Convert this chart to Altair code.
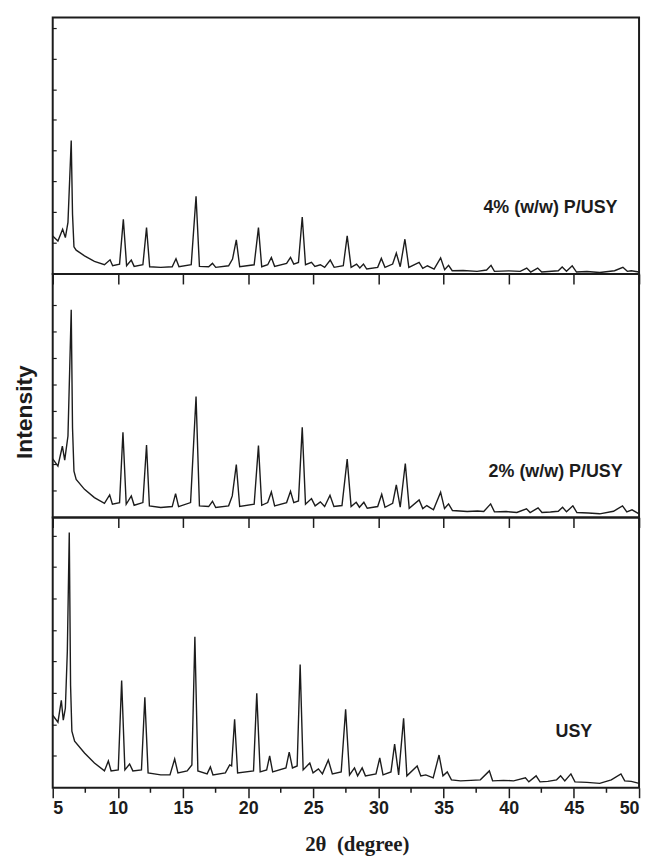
import altair as alt
import pandas as pd

# ---- data: (2theta, intensity in arbitrary units) ----
p4_pattern = [
    (5.0, 38.3), (5.4, 33.3), (5.76, 45), (5.97, 36.7), (6.17, 52), (6.42, 134.3), (6.52, 60),
    (6.63, 27.3), (6.8, 24), (7.44, 18.3), (8.2, 12.7), (8.97, 9.3), (9.4, 14.3), (9.6, 8.3),
    (10.13, 10), (10.42, 55), (10.67, 8.3), (11.03, 14), (11.25, 7.7), (11.92, 9.3), (12.2, 46.7),
    (12.44, 7.3), (13.29, 6.7), (14.17, 7.3), (14.46, 15.3), (14.69, 7.3), (15.63, 9.3), (16.0, 78.3),
    (16.26, 7.7), (16.97, 7.3), (17.26, 10.7), (17.51, 6.7), (18.5, 8.3), (18.8, 15), (19.09, 34.3),
    (19.35, 7.3), (20.46, 9.3), (20.79, 46.7), (21.04, 7.3), (21.5, 9.3), (21.78, 16.7), (22.03, 7.7),
    (22.95, 10.7), (23.25, 16.7), (23.5, 10), (23.86, 11.7), (24.15, 57.3), (24.4, 9.3), (24.86, 11.7),
    (25.12, 7.7), (25.54, 9.3), (25.87, 6.7), (26.3, 14), (26.6, 6.7), (27.3, 8.3), (27.6, 38.3),
    (27.9, 6.7), (28.32, 10), (28.57, 6), (28.85, 10), (29.1, 5), (29.94, 6.7), (30.22, 15.7),
    (30.5, 6.7), (31.09, 10), (31.37, 21), (31.67, 7.3), (32.03, 35), (32.33, 6.7), (33.12, 11.7),
    (33.4, 5.7), (33.76, 8.3), (34.27, 5), (34.77, 16.3), (35.08, 4.3), (35.38, 8.7), (35.66, 3.3),
    (36.5, 3.5), (37.57, 2.7), (38.3, 4), (38.64, 8.7), (38.9, 2.7), (40.0, 3.2), (40.88, 2.7),
    (41.38, 6), (41.68, 2), (42.22, 6), (42.53, 2), (43.8, 3.3), (44.1, 7), (44.43, 2.7), (44.87, 8.3),
    (45.2, 2), (46.0, 2.5), (46.98, 1.5), (48.12, 3.3), (48.76, 6.7), (49.1, 2.7), (49.4, 3.3),
    (50.0, 2),
]

p2_pattern = [
    (5.0, 59), (5.4, 51.7), (5.74, 71.7), (5.92, 57.7), (6.17, 82), (6.42, 209), (6.52, 90),
    (6.63, 46.7), (6.8, 38.3), (7.44, 28.3), (8.2, 20), (8.97, 14.3), (9.37, 22.7), (9.58, 13.3),
    (10.13, 15), (10.39, 85.7), (10.64, 13.3), (11.03, 21.7), (11.25, 12.3), (11.92, 15), (12.2, 73),
    (12.42, 11.7), (13.29, 10), (14.17, 11), (14.43, 24), (14.66, 11), (15.58, 15), (16.0, 121.7),
    (16.26, 11.7), (16.97, 11), (17.26, 16.3), (17.51, 10), (18.5, 11.7), (18.78, 21.7), (19.09, 53.3),
    (19.35, 11), (20.46, 13.3), (20.79, 72.3), (21.04, 12.3), (21.5, 15), (21.78, 25.7), (22.03, 11.7),
    (22.95, 15), (23.25, 26.3), (23.5, 15), (23.86, 16.7), (24.15, 90.7), (24.4, 13.3), (24.86, 19),
    (25.14, 11.7), (25.54, 15.7), (25.87, 11), (26.28, 22.3), (26.58, 11), (27.2, 12), (27.6, 58.7),
    (27.9, 11), (28.29, 15.3), (28.54, 10.3), (28.88, 15.3), (29.14, 9.3), (29.94, 11), (30.25, 23.3),
    (30.5, 10.3), (31.09, 14.3), (31.37, 32.7), (31.67, 10.3), (32.06, 54.3), (32.36, 9.3), (33.12, 17.7),
    (33.4, 9), (33.71, 12), (34.22, 7.7), (34.77, 25.3), (35.07, 9), (35.38, 13.7), (35.68, 7),
    (36.81, 6), (37.6, 6.5), (38.08, 6), (38.61, 13.7), (38.9, 5.7), (39.8, 6), (40.62, 5),
    (41.36, 8.7), (41.64, 5), (42.25, 9.7), (42.55, 5), (43.2, 5.5), (43.8, 6.3), (44.13, 10.3),
    (44.43, 5.7), (44.92, 11.7), (45.23, 5), (46.1, 4.5), (46.98, 3.7), (48.04, 6.3), (48.73, 11.7),
    (49.06, 5.7), (49.46, 7.7), (50.0, 3.7),
]

usy_pattern = [
    (5.0, 73), (5.4, 66), (5.66, 88), (5.81, 68), (5.97, 80), (6.12, 137), (6.27, 257), (6.37, 103),
    (6.47, 57), (6.68, 47), (7.44, 35), (8.2, 25), (8.97, 17), (9.27, 27), (9.48, 17), (10.03, 18),
    (10.29, 108), (10.54, 18), (10.9, 24), (11.15, 17), (11.81, 18), (12.07, 91), (12.32, 15),
    (13.29, 13), (14.0, 13), (14.36, 29), (14.61, 15), (15.32, 17), (15.68, 23), (15.91, 152),
    (16.14, 17), (16.85, 14), (17.1, 21), (17.3, 13), (18.25, 15), (18.58, 23), (18.73, 22),
    (18.96, 69), (19.19, 15), (20.41, 17), (20.66, 95), (20.92, 16), (21.42, 18), (21.65, 32),
    (21.88, 16), (22.9, 20), (23.15, 36), (23.4, 20), (23.76, 22), (23.99, 124), (24.22, 18),
    (24.73, 25), (24.98, 15), (25.39, 19), (25.7, 14), (26.15, 28), (26.46, 14), (27.14, 16),
    (27.48, 79), (27.78, 13), (28.16, 20), (28.4, 12), (28.75, 20), (29.0, 12), (29.81, 14),
    (30.1, 30), (30.35, 13), (30.96, 16), (31.24, 44), (31.55, 13), (31.93, 70), (32.18, 12),
    (32.97, 22), (33.25, 12), (33.63, 13), (34.2, 10), (34.65, 33), (34.95, 12), (35.28, 16),
    (35.6, 8), (36.3, 7), (37.1, 7.5), (37.82, 8), (38.51, 17), (38.76, 7), (39.6, 7.5), (40.37, 7),
    (41.28, 10), (41.54, 6), (42.1, 12), (42.4, 6), (43.0, 6.5), (43.67, 8), (43.98, 12), (44.3, 7),
    (44.77, 14), (45.08, 6), (46.0, 5.5), (46.98, 4.5), (47.87, 8), (48.61, 14), (48.9, 7),
    (49.4, 6.5), (50.0, 4.5),
]

sample_labels = ["4% (w/w) P/USY", "2% (w/w) P/USY", "USY"]
label_theta = [43.2, 43.6, 45.0]
label_intensity = [66, 46, 56]

major_ticks = [5, 10, 15, 20, 25, 30, 35, 40, 45, 50]
minor_ticks = [7.5, 12.5, 17.5, 22.5, 27.5, 32.5, 37.5, 42.5, 47.5]
y_ticks_4 = [31, 62, 93, 124, 155, 185, 216, 247]
y_ticks_2 = [26.7, 53.3, 80, 106.7, 133.3, 160, 186.7, 213.3]
y_ticks_usy = [32, 63, 95, 127, 158, 190, 222, 253]

W = 590
INK = "#1c1c1c"
SANS = "Liberation Sans"


def panel(points, height, yticks, idx, bottom=False, ytitle=False):
    df = pd.DataFrame(points, columns=["theta", "intensity"])
    xs = alt.Scale(domain=[5, 50], nice=False, zero=False)
    ys = alt.Scale(domain=[0, height], nice=False, zero=True)
    if bottom:
        xaxis = alt.Axis(values=major_ticks, title="2θ\u00a0 (degree)", tickSize=10, tickWidth=1.5,
                         tickColor=INK, domain=False, grid=False, labelFont=SANS,
                         labelFontWeight="bold", labelFontSize=18, labelColor=INK,
                         labelPadding=2, titleFont="Liberation Serif", titleFontWeight="bold",
                         titleFontSize=21, titleColor=INK, titleX=306, titleY=57,
                         titleBaseline="middle", titleAlign="center", format="d")
    else:
        xaxis = alt.Axis(values=major_ticks, title=None, labels=False, tickSize=10,
                         tickWidth=1.5, tickColor=INK, domain=False, grid=False)
    line = alt.Chart(df).mark_line(color=INK, strokeWidth=1.4, interpolate="linear").encode(
        x=alt.X("theta:Q", scale=xs, axis=xaxis),
        y=alt.Y("intensity:Q", scale=ys, axis=None),
    )
    yt = alt.Chart(pd.DataFrame({"intensity": yticks})).mark_rule(
        color=INK, strokeWidth=1.2).encode(
        y=alt.Y("intensity:Q", scale=ys, axis=None), x=alt.value(0), x2=alt.value(4))
    lab = alt.Chart(pd.DataFrame({"theta": [label_theta[idx]],
                                  "intensity": [label_intensity[idx]],
                                  "t": [sample_labels[idx]]})).mark_text(
        font=SANS, fontWeight="bold", fontSize=18, color=INK, align="center",
        baseline="middle").encode(
        x=alt.X("theta:Q", scale=xs), y=alt.Y("intensity:Q", scale=ys), text="t:N")
    layers = [line, yt, lab]
    if bottom:
        mt = alt.Chart(pd.DataFrame({"theta": minor_ticks})).mark_rule(
            color=INK, strokeWidth=1.5).encode(
            x=alt.X("theta:Q", scale=xs), y=alt.value(height), y2=alt.value(height + 5))
        layers.append(mt)
    if ytitle:
        tt = alt.Chart(pd.DataFrame({"t": ["Intensity"]})).mark_text(
            font=SANS, fontWeight="bold", fontSize=23, color=INK, angle=270,
            align="center", baseline="middle").encode(
            x=alt.value(-28), y=alt.value(139), text="t:N")
        layers.append(tt)
    return alt.layer(*layers).properties(width=W, height=height)


p1 = panel(p4_pattern, 258, y_ticks_4, 0)
p2 = panel(p2_pattern, 245, y_ticks_2, 1, ytitle=True)
p3 = panel(usy_pattern, 272, y_ticks_usy, 2, bottom=True)

chart = alt.vconcat(p1, p2, p3, spacing=0, bounds="flush").properties(
    padding={"left": 5, "top": 6, "right": 5, "bottom": 5},
    background="white",
).configure_view(stroke=INK, strokeWidth=2)

chart.save("out.html", embed_options={"renderer": "svg", "actions": False})
